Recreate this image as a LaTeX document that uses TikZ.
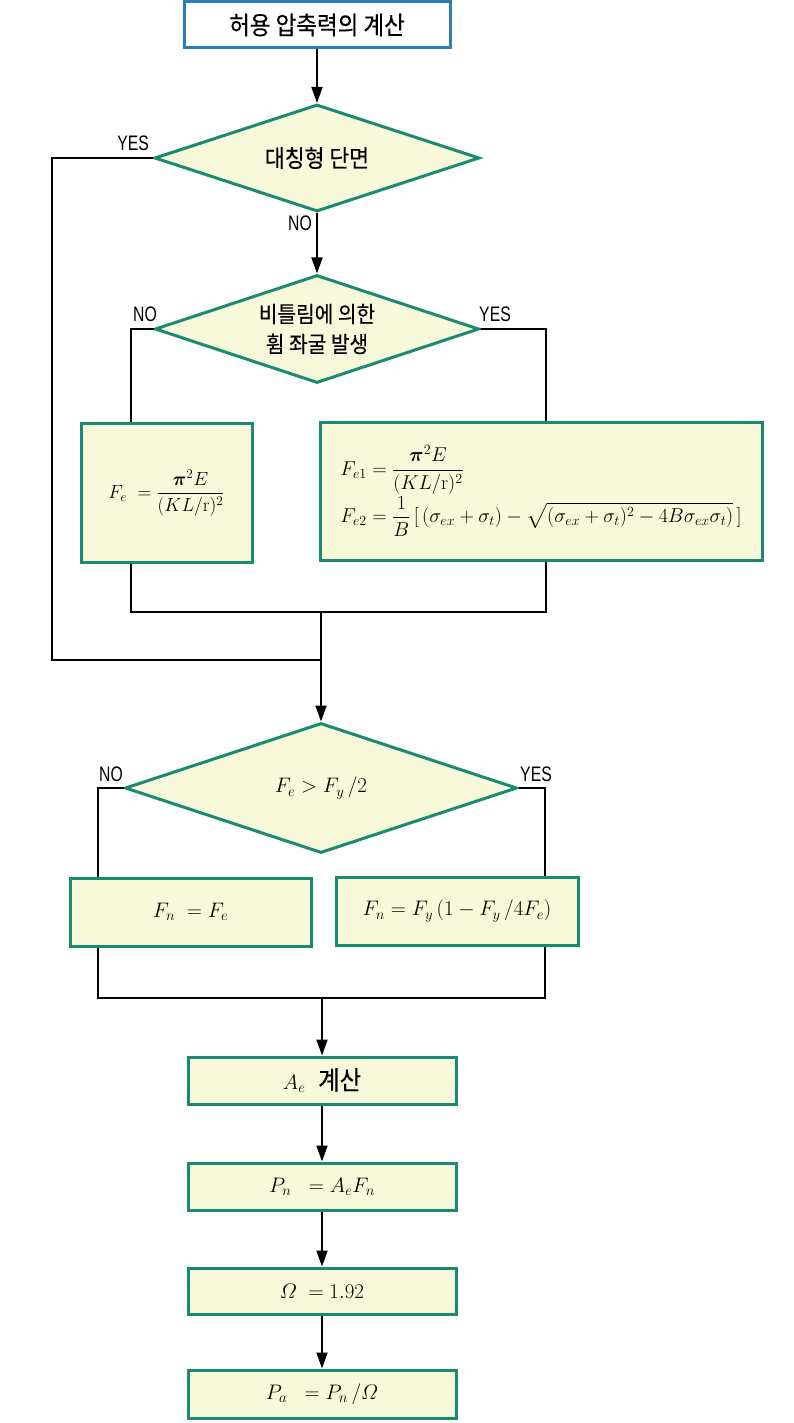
\RequirePackage{fix-cm}
\documentclass[tikz,border=0pt]{standalone}
\usepackage{amsmath}
\usepackage{fontspec}
\newfontfamily\kr[FakeStretch=0.9,FakeBold=0.25]{Noto Sans CJK KR}
\newfontfamily\lab[FakeStretch=0.75]{Liberation Sans}
\usetikzlibrary{shapes.geometric,arrows.meta}
\definecolor{teal1}{HTML}{1B8A72}
\definecolor{blue1}{HTML}{2B7CBA}
\definecolor{fill1}{HTML}{F8F8DA}
\begin{document}
\begin{tikzpicture}[x=1pt,y=-1pt,
  box/.style={draw=teal1,line width=3pt,fill=fill1,rectangle,inner sep=0pt,font=\fontsize{21}{25}\selectfont},
  fbox/.style={box,font=\fontsize{19}{23}\selectfont},
  dia/.style={draw=teal1,line width=3pt,fill=fill1,diamond,shape aspect=3,inner sep=0pt,font=\kr\fontsize{22.5}{30}\selectfont,align=center},
  conn/.style={line width=1.8pt,black},
  arr/.style={conn,-{Triangle[length=16pt,width=11pt]}},
  yn/.style={font=\lab\fontsize{21}{22}\selectfont,inner sep=0pt}]
\useasboundingbox (0,0) rectangle (793,1423);
\fill[white] (0,0) rectangle (793,1423);

% nodes
\node[draw=blue1,line width=3pt,fill=white,minimum width=266pt,minimum height=46pt,inner sep=0pt,font=\kr\fontsize{25}{28}\selectfont] (top) at (317,25) {허용 압축력의 계산};
\node[dia,minimum width=325pt,minimum height=107pt,font=\kr\fontsize{24}{28}\selectfont] (d1) at (317,158) {대칭형 단면};
\node[dia,minimum width=324pt,minimum height=108pt] (d2) at (317,329) {비틀림에 의한\\휨 좌굴 발생};
\node[fbox,minimum width=171pt,minimum height=139pt] (bL) at (166.5,493) {$\displaystyle F_e \;= \frac{\boldsymbol{\pi}^2 E}{(KL/\mathrm{r})^2}$};
\node[fbox,minimum width=442pt,minimum height=138pt,font=\fontsize{20}{24}\selectfont] (bR) at (541,491) {$\displaystyle\begin{aligned}
 F_{e1} &= \frac{\boldsymbol{\pi}^2 E}{(KL/\mathrm{r})^2}\\[-2pt]
 F_{e2} &= \frac{1}{B}\,[\,(\sigma_{ex}+\sigma_t)-\sqrt{(\sigma_{ex}+\sigma_t)^2-4B\sigma_{ex}\sigma_t)}\,]
\end{aligned}$};
\node[dia,minimum width=392pt,minimum height=130pt,font=\fontsize{21}{25}\selectfont] (d3) at (321,788) {$F_e > F_y\,/2$};
\node[box,minimum width=241pt,minimum height=68pt] (n1) at (190.5,912) {$F_n \;= F_e$};
\node[box,minimum width=242pt,minimum height=68pt] (n2) at (457,911) {$F_n = F_y\,(1 - F_y\,/4F_e)$};
\node[box,minimum width=268pt,minimum height=47pt] (ae) at (322,1080.5) {$A_e$\ \ {\kr\fontsize{26}{28}\selectfont 계산}};
\node[box,minimum width=268pt,minimum height=47pt] (pn) at (322,1186.5) {$P_n \;\;= A_eF_n$};
\node[box,minimum width=268pt,minimum height=46pt] (q) at (322,1291) {$\varOmega \;= 1.92$};
\node[box,minimum width=268pt,minimum height=48pt] (pa) at (322,1394) {$P_a \;\;= P_n\,/\varOmega$};

% labels
\node[yn,anchor=south east] (l1) at (149,151) {YES};
\node[yn,anchor=north east] (l2) at (312,216) {NO};
\node[yn,anchor=south] (l3) at (145,322) {NO};
\node[yn,anchor=south] (l4) at (495,322) {YES};
\node[yn,anchor=south] (l5) at (111,782) {NO};
\node[yn,anchor=south] (l6) at (536,782) {YES};

% coordinates
\coordinate (m1) at (321,612);
\coordinate (m2) at (321,660);
\coordinate (m3) at (322,998);
\coordinate (cL) at (131,612);
\coordinate (cR) at (546,612);
\coordinate (eL) at (98,998);
\coordinate (eR) at (545,998);

% connectors
\draw[arr] (top.south) -- (d1.north);
\draw[arr] (d1.south) -- (d2.north);
\draw[conn] (d1.west) -- (52,158) |- (m2);
\draw[conn] (d2.west) -| (cL |- bL.north);
\draw[conn] (d2.east) -| (cR |- bR.north);
\draw[conn] (cL |- bL.south) -- (cL) -- (cR) -- (cR |- bR.south);
\draw[arr] (m1) -- (d3.north);
\draw[conn] (d3.west) -| (eL |- n1.north);
\draw[conn] (d3.east) -| (eR |- n2.north);
\draw[conn] (eL |- n1.south) -- (eL) -- (eR) -- (eR |- n2.south);
\draw[arr] (m3) -- (ae.north);
\draw[arr] (ae.south) -- (pn.north);
\draw[arr] (pn.south) -- (q.north);
\draw[arr] (q.south) -- (pa.north);
\end{tikzpicture}
\end{document}
